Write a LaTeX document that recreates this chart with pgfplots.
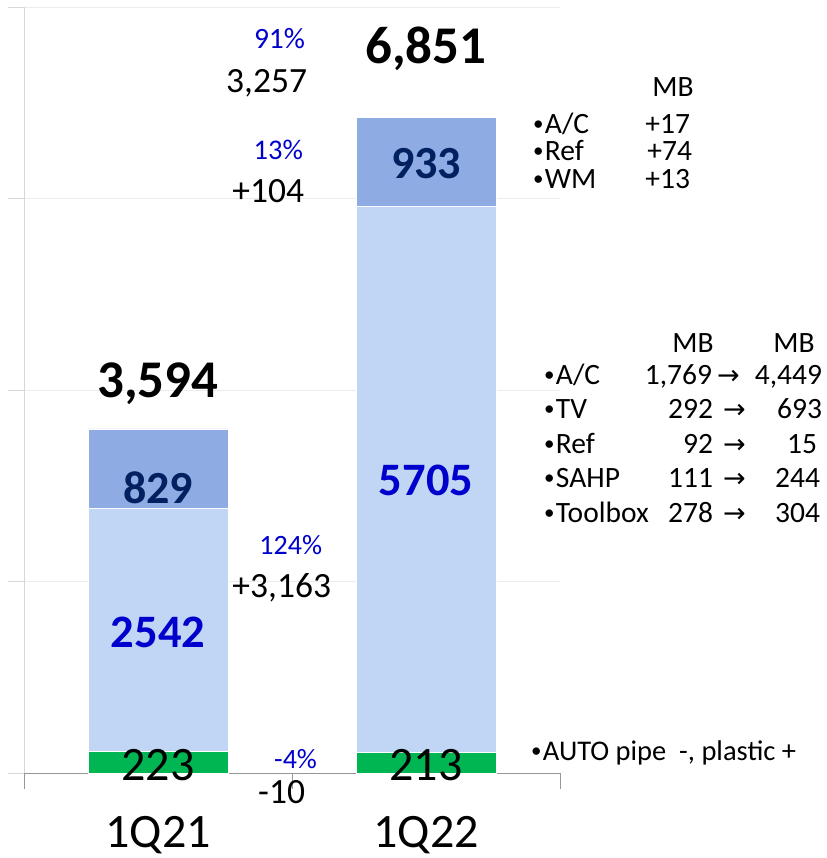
\documentclass[border=0pt]{standalone}
\usepackage{pgfplots}
\pgfplotsset{compat=1.18}
\usepackage{fontspec}
\setmainfont{Carlito}
\newfontfamily\dejavu{DejaVu Sans}
\definecolor{topbar}{RGB}{142,171,227}
\definecolor{midbar}{RGB}{193,213,244}
\definecolor{botbar}{RGB}{0,182,82}
\definecolor{navy}{RGB}{0,32,96}
\definecolor{lblue}{RGB}{0,0,204}
\definecolor{gridc}{RGB}{236,236,236}
\definecolor{yax}{RGB}{215,215,215}
\definecolor{xax}{RGB}{150,150,150}
\newcommand\fs[1]{\fontsize{#1bp}{#1bp}\selectfont}
\newcommand\bul{{\fs{21}\raisebox{2.5bp}{•}}\hspace{1.5bp}}
\newcommand\arr{{\dejavu\fs{27}→}}
\begin{document}
\begin{tikzpicture}
\begin{axis}[
 at={(24bp,-773bp)}, anchor=south west,
 scale only axis, width=536bp, height=766bp,
 xmin=-0.5, xmax=1.5, ymin=0, ymax=8000,
 ybar stacked, bar width=140bp,
 axis x line*=bottom, axis y line*=left,
 x axis line style={draw=xax, line width=1bp, -},
 y axis line style={draw=yax, line width=1bp, -},
 xtick={-0.5,0.5,1.5}, xticklabels={},
 ytick={0,2000,4000,6000,8000}, yticklabels={},
 tick align=outside, major tick length=16bp,
 xtick style={draw=xax, line width=1bp},
 ytick style={draw=yax, line width=1bp},
 ymajorgrids, grid style={draw=gridc, line width=1bp},
 clip=false,
]
\addplot[fill=botbar, draw=white, line width=0.6bp] coordinates {(0,223) (1,213)};
\addplot[fill=midbar, draw=white, line width=0.6bp] coordinates {(0,2542) (1,5705)};
\addplot[fill=topbar, draw=white, line width=0.6bp] coordinates {(0,829) (1,933)};
\end{axis}
\begin{scope}[every node/.style={inner sep=0pt, outer sep=0pt}]
% change annotations
\node[anchor=base east, text=lblue, font=\fs{29.5}] at (305bp,-48bp) {91\%};
\node[anchor=base east, font=\fs{35.5}] at (307bp,-92bp) {3,257};
\node[anchor=base east, text=lblue, font=\fs{28.5}] at (303bp,-159bp) {13\%};
\node[anchor=base east, font=\fs{35.5}] at (304bp,-202bp) {+104};
\node[anchor=base east, text=lblue, font=\fs{28}] at (322bp,-554bp) {124\%};
\node[anchor=base east, font=\fs{35.5}] at (331bp,-597bp) {+3,163};
\node[anchor=base east, text=lblue, font=\fs{28}] at (317bp,-768bp) {-4\%};
\node[anchor=base east, font=\fs{35.5}] at (305bp,-803bp) {-10};
% totals
\node[anchor=base, font=\bfseries\fs{53}] at (158bp,-397bp) {3,594};
\node[anchor=base, font=\bfseries\fs{53}] at (426bp,-63bp) {6,851};
% bar labels
\node[anchor=base, text=navy, font=\bfseries\fs{46}] at (158bp,-503bp) {829};
\node[anchor=base, text=navy, font=\bfseries\fs{46}] at (426bp,-178bp) {933};
\node[anchor=base, text=lblue, font=\bfseries\fs{46.5}] at (158bp,-647bp) {2542};
\node[anchor=base, text=lblue, font=\bfseries\fs{46.5}] at (426bp,-495bp) {5705};
\node[anchor=base, font=\fs{48}] at (158bp,-780bp) {223};
\node[anchor=base, font=\fs{48}] at (426bp,-780bp) {213};
% category labels
\node[anchor=base, font=\fs{48}] at (158bp,-847bp) {1Q21};
\node[anchor=base, font=\fs{48}] at (426bp,-847bp) {1Q22};
% table 1
\node[anchor=base, font=\fs{29.5}] at (673bp,-96bp) {MB};
\node[anchor=base west, font=\fs{29.5}] at (533bp,-133bp) {\bul A/C};
\node[anchor=base east, font=\fs{29.5}] at (690bp,-133bp) {+17};
\node[anchor=base west, font=\fs{29.5}] at (533bp,-160bp) {\bul Ref};
\node[anchor=base east, font=\fs{29.5}] at (692bp,-160bp) {+74};
\node[anchor=base west, font=\fs{29.5}] at (533bp,-188bp) {\bul WM};
\node[anchor=base east, font=\fs{29.5}] at (690bp,-188bp) {+13};
% table 2
\node[anchor=base, font=\fs{29.5}] at (693bp,-352bp) {MB};
\node[anchor=base, font=\fs{29.5}] at (794bp,-352bp) {MB};
\node[anchor=base west, font=\fs{29.5}] at (544bp,-384bp) {\bul A/C};
\node[anchor=base east, font=\fs{29.5}] at (712bp,-384bp) {1,769};
\node[anchor=base west] at (717bp,-384bp) {\arr};
\node[anchor=base east, font=\fs{29.5}] at (822bp,-384bp) {4,449};
\node[anchor=base west, font=\fs{29.5}] at (544bp,-418bp) {\bul TV};
\node[anchor=base east, font=\fs{29.5}] at (713bp,-418bp) {292};
\node[anchor=base west] at (723bp,-418bp) {\arr};
\node[anchor=base east, font=\fs{29.5}] at (822bp,-418bp) {693};
\node[anchor=base west, font=\fs{29.5}] at (544bp,-453bp) {\bul Ref};
\node[anchor=base east, font=\fs{29.5}] at (713bp,-453bp) {92};
\node[anchor=base west] at (723bp,-453bp) {\arr};
\node[anchor=base east, font=\fs{29.5}] at (817bp,-453bp) {15};
\node[anchor=base west, font=\fs{29.5}] at (544bp,-487bp) {\bul SAHP};
\node[anchor=base east, font=\fs{29.5}] at (713bp,-487bp) {111};
\node[anchor=base west] at (723bp,-487bp) {\arr};
\node[anchor=base east, font=\fs{29.5}] at (820bp,-487bp) {244};
\node[anchor=base west, font=\fs{29.5}] at (544bp,-522bp) {\bul Toolbox};
\node[anchor=base east, font=\fs{29.5}] at (713bp,-522bp) {278};
\node[anchor=base west] at (723bp,-522bp) {\arr};
\node[anchor=base east, font=\fs{29.5}] at (820bp,-522bp) {304};
% auto note
\node[anchor=base west, font=\fs{28.5}] at (531bp,-760bp) {\bul AUTO pipe\ \ -, plastic +};
\end{scope}
\pgfresetboundingbox
\path[use as bounding box] (0,0) rectangle (827bp,-858bp);
\end{tikzpicture}
\end{document}
